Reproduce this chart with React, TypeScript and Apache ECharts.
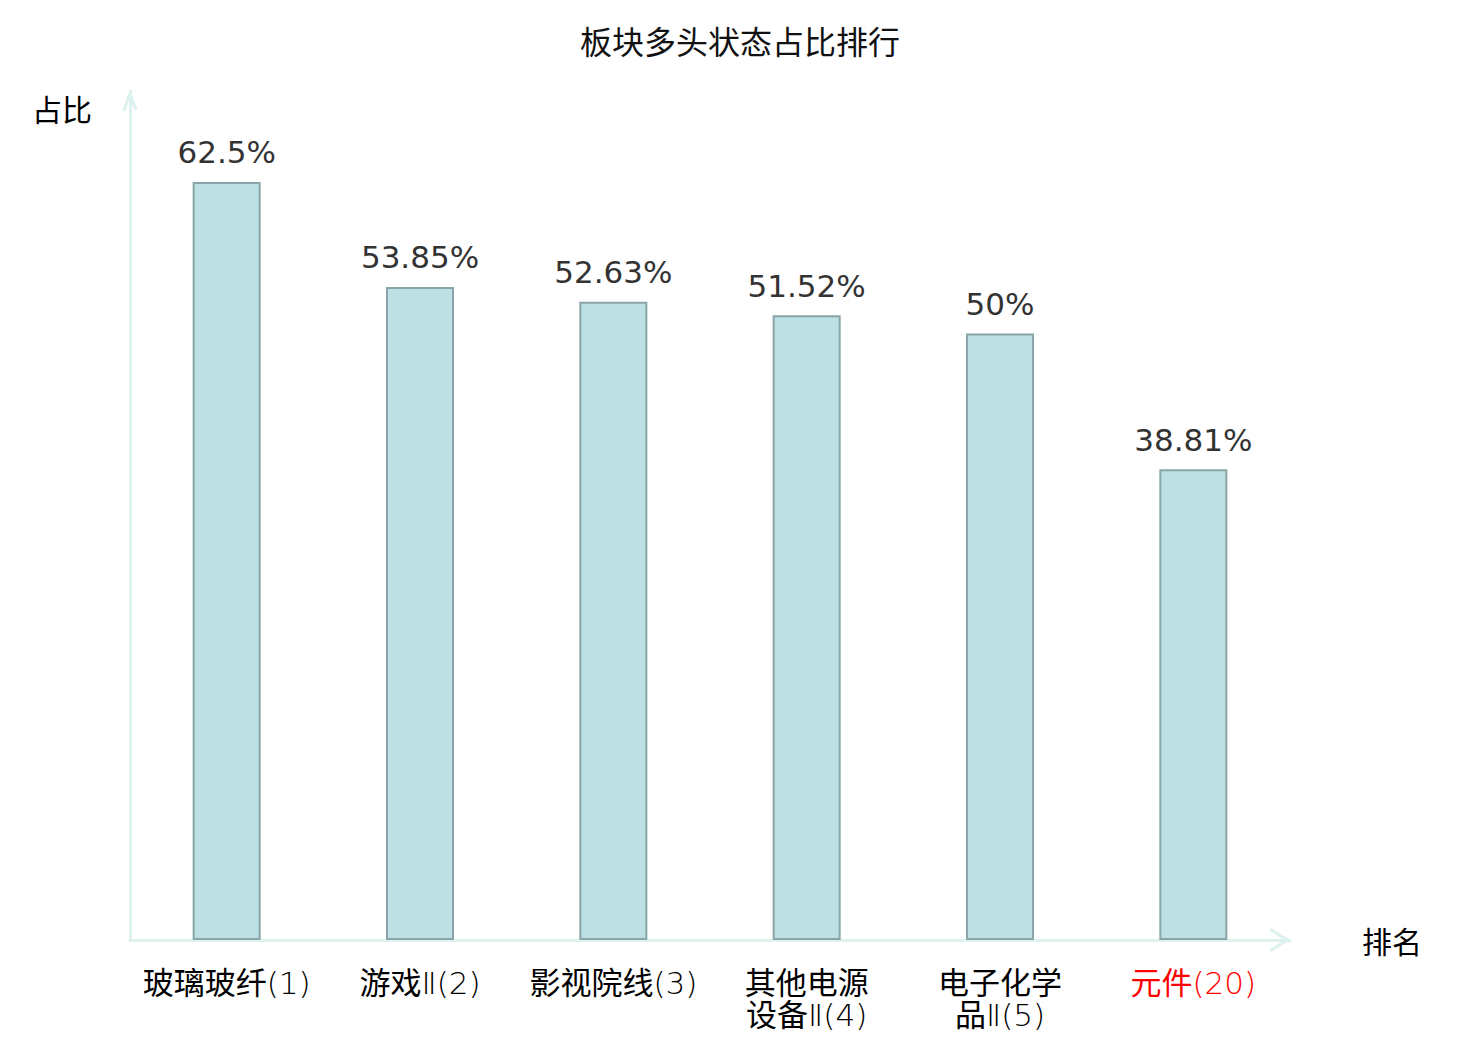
import React, { useEffect, useRef } from "react";
import * as echarts from "echarts";

const TITLE = "板块多头状态占比排行";
const CATEGORIES = ["玻璃玻纤(1)", "游戏Ⅱ(2)", "影视院线(3)", "其他电源设备Ⅱ(4)", "电子化学品Ⅱ(5)", "元件(20)"];
const HIGHLIGHT = ["元件(20)"];
const VALUES = [62.5, 53.85, 52.63, 51.52, 50, 38.81];
const Y_NAME = "占比";
const X_NAME = "排名";

const AXIS_COLOR = "#ddf1ef";
const X_ARROW = "path://M12,0 L24,19.5 L21.4,21 L12,6 L2.6,21 L0,19.5 Z";
const Y_ARROW = "path://M7.5,0 L15,21 L12.2,22 L7.5,9 L2.8,22 L0,21 Z";
const LABEL_FONT = "'DejaVu Sans Light', 'DejaVu Sans ExtraLight', 'Noto Sans CJK SC', sans-serif";

function wrapName(v: string): string {
  const i = v.indexOf("(");
  const name = i >= 0 ? v.slice(0, i) : v;
  const rest = i >= 0 ? v.slice(i) : "";
  if (name.length > 4) return name.slice(0, 4) + "\n" + name.slice(4) + rest;
  return v;
}

export default function App() {
  const ref = useRef<HTMLDivElement>(null);
  useEffect(() => {
    document.body.style.margin = "0";
    if (!ref.current) return;
    const chart = echarts.init(ref.current, null, { renderer: "svg" });
    chart.setOption({
      animation: false,
      backgroundColor: "#fff",
      title: {
        text: TITLE,
        left: "center",
        top: 19,
        textStyle: { fontSize: 32, fontWeight: "normal", color: "#111", fontFamily: "Noto Sans CJK SC" },
      },
      grid: { left: 130, right: 190, top: 91, bottom: 100, containLabel: false, outerBoundsMode: "none" },
      xAxis: {
        type: "category",
        data: CATEGORIES.map((c) =>
          HIGHLIGHT.includes(c) ? { value: c, textStyle: { color: "#f00" } } : c
        ),
        name: X_NAME,
        nameLocation: "end",
        nameGap: 72,
        nameTextStyle: { fontSize: 30, color: "#000", fontFamily: "Noto Sans CJK SC", verticalAlign: "middle" },
        axisLine: {
          show: true,
          lineStyle: { color: AXIS_COLOR, width: 3 },
          symbol: ["none", X_ARROW],
          symbolSize: [24, 21],
          symbolOffset: [0, -10],
        },
        axisTick: { show: false },
        axisLabel: {
          interval: 0,
          fontSize: 31,
          fontWeight: "normal",
          lineHeight: 32,
          margin: 27,
          color: "#000",
          fontFamily: LABEL_FONT,
          formatter: wrapName,
        },
      },
      yAxis: {
        type: "value",
        min: 0,
        max: 70,
        name: Y_NAME,
        nameLocation: "end",
        nameGap: -17,
        nameTextStyle: {
          fontSize: 30,
          color: "#000",
          fontFamily: "Noto Sans CJK SC",
          align: "right",
          verticalAlign: "middle",
          padding: [0, 38, 0, 0],
        },
        axisLine: {
          show: true,
          lineStyle: { color: AXIS_COLOR, width: 3 },
          symbol: ["none", Y_ARROW],
          symbolSize: [15, 22],
          symbolOffset: [0, -9],
        },
        axisTick: { show: false },
        axisLabel: { show: false },
        splitLine: { show: false },
      },
      series: [
        {
          type: "bar",
          data: VALUES,
          barWidth: 68,
          itemStyle: { color: "#bce0e3", borderColor: "#89a5a7", borderWidth: 2 },
          label: {
            show: true,
            position: "top",
            distance: 14,
            formatter: "{c}%",
            fontSize: 31,
            color: "#333",
            fontFamily: "DejaVu Sans",
          },
        },
      ],
    });
    return () => chart.dispose();
  }, []);
  return <div ref={ref} style={{ width: 1480, height: 1040 }} />;
}
